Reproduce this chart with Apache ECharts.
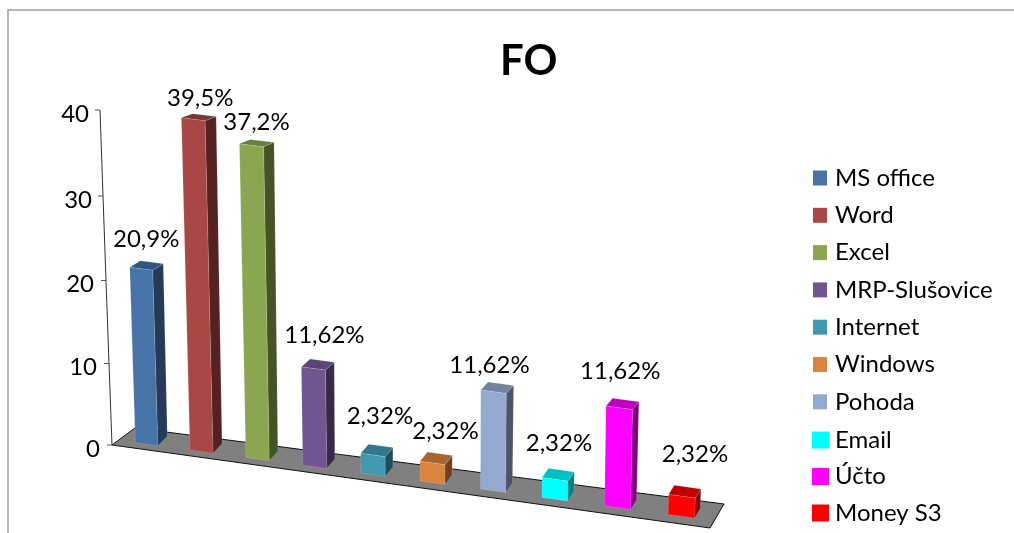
<!DOCTYPE html>
<html><head><meta charset="utf-8">
<script src="https://cdn.jsdelivr.net/npm/echarts@6/dist/echarts.min.js"></script>
<style>html,body{margin:0;padding:0;background:#fff}#c{width:1014px;height:533px}</style>
</head><body><div id="c"></div>
<script>
var categories = ['MS office','Word','Excel','MRP-Slušovice','Internet','Windows','Pohoda','Email','Účto','Money S3'];
var values = [20.9,39.5,37.2,11.62,2.32,2.32,11.62,2.32,11.62,2.32];
var yTicks = [0,10,20,30,40];
var frontColors = ['#4674A8','#A94744','#8BA650','#705590','#4198AF','#DB843D','#93A9CF','#00FFFF','#FF00FF','#FF0000'];
var sideColors = ['#243A58','#552121','#465327','#38294A','#1F4D59','#6E421E','#4A5568','#008080','#800080','#800000'];
var topColors = ['#2F5580','#7A3432','#697D3C','#5A4575','#31788C','#A86530','#71839F','#00C0C0','#C000C0','#C00000'];
var labelDx = [5,7,5,11,7,13,-4,4,1,13];
var labelDy = [-30,-21,-23,-33,-39,-32,-26,-36,-37,-42];

var FONT = 'Lato';
var SLOPE = 0.1388, AXH = 335;
var chart = echarts.init(document.getElementById('c'), null, {renderer:'canvas'});

function project(x, y0, x0, h, back){
  var s = 1 + (x - x0) * 0.00005;
  var lean = (x - 450) * 0.0001;
  return [x + lean * h * s, y0 + SLOPE * (x - x0) - back - h * s];
}
function barItem(idx){
  return function(params, api){
    var i = api.value(0), v = api.value(1);
    var c0 = api.coord([i,0]), cv = api.coord([i,v]);
    var band = api.size([1,0])[0];
    var x0 = c0[0] - band * (i + 0.5);
    var xc = c0[0] + 0.5625 * (i-5)*(i-5) - 9.5;
    var w = 22.5 + 0.45 * i;
    var h = c0[1] - cv[1];
    var back = 5.5 + (xc - x0) * 0.004;
    var fl = project(xc-w/2, c0[1], x0, 0, back), fr = project(xc+w/2, c0[1], x0, 0, back);
    var tl = project(xc-w/2, c0[1], x0, h, back), tr = project(xc+w/2, c0[1], x0, h, back);
    var d0 = 9.5 - 0.45 * i, dxT = d0 + h / AXH * 2, dyT = -(9.5 - h / AXH * 5.5);
    var edge = 'rgba(255,255,255,0.22)';
    var txt = String(v).replace('.', ',') + '%';
    return {type:'group', children:[
      {type:'polygon', shape:{points:[fr,[fr[0]+d0,fr[1]-9.5],[tr[0]+dxT,tr[1]+dyT],tr]}, style:{fill:sideColors[idx],stroke:edge,lineWidth:0.6}},
      {type:'polygon', shape:{points:[tl,tr,[tr[0]+dxT,tr[1]+dyT],[tl[0]+dxT,tl[1]+dyT]]}, style:{fill:topColors[idx],stroke:edge,lineWidth:0.6}},
      {type:'polygon', shape:{points:[fl,fr,tr,tl]}, style:{fill:frontColors[idx],stroke:edge,lineWidth:0.6}},
      {type:'text', style:{text:txt, x:(tl[0]+tr[0])/2+labelDx[idx], y:(tl[1]+tr[1])/2+labelDy[idx], font:'24px '+FONT, fill:'#000', align:'center', verticalAlign:'middle'}}
    ]};
  };
}
function floorItem(params, api){
  var c = api.coord([0,0]), band = api.size([1,0])[0];
  var L = c[0]-band/2, R = L + band*categories.length;
  var fl = [L,c[1]], fr = [R-2, c[1]+SLOPE*(R-2-L)];
  return {type:'polygon', shape:{points:[fl,fr,[fr[0]+14,fr[1]-24],[fl[0]+23,fl[1]-17]]},
    style:{fill:'#808080',stroke:'#111',lineWidth:1}};
}
function tickWarp(v){ var u=v/20-1; return 3*(1-u*u); }
function axisItem(params, api){
  var v = api.value(1), c = api.coord([0,v]);
  var L = c[0]-api.size([1,0])[0]/2, h = api.coord([0,0])[1]-c[1];
  var x = L - 12*h/AXH, y = c[1]+tickWarp(v);
  var ch = [{type:'line', shape:{x1:x-5,y1:y,x2:x,y2:y}, style:{stroke:'#555',lineWidth:1}}];
  if(v>0){
    var lo = api.coord([0,v-10]), hl = api.coord([0,0])[1]-lo[1];
    ch.push({type:'line', shape:{x1:x,y1:y,x2:L-12*hl/AXH,y2:lo[1]+tickWarp(v-10)}, style:{stroke:'#333',lineWidth:1}});
  }
  return {type:'group',children:ch};
}
var series = [
  {type:'custom', name:'floor', coordinateSystem:'cartesian2d', data:[[0,0]], renderItem:floorItem, silent:true, z:1, encode:{x:0,y:1}},
  {type:'custom', name:'axis', coordinateSystem:'cartesian2d', data:yTicks.map(function(v){return [0,v];}), renderItem:axisItem, silent:true, z:1, encode:{x:0,y:1}}
];
categories.forEach(function(name,i){
  series.push({type:'custom', name:name, coordinateSystem:'cartesian2d', data:[[i,values[i]]], renderItem:barItem(i),
    itemStyle:{color:frontColors[i]}, silent:true, z:2+i, encode:{x:0,y:1}});
});
var legendText = {fontFamily:FONT, fontSize:24, color:'#000', padding:[0,0,0,3]};
var rich = {};
yTicks.forEach(function(v){
  rich['t'+v] = {fontFamily:FONT, fontSize:24, color:'#000', padding:[8+2*tickWarp(v),Math.round(11*v/40),0,0]};
});
chart.setOption({
  animation:false,
  backgroundColor:'#fff',
  title:{text:'FO', left:500, top:40, padding:0, textStyle:{fontFamily:FONT,fontWeight:'bold',fontSize:42,color:'#000'}},
  grid:{left:112, top:110, width:600, height:335, containLabel:false},
  xAxis:{type:'category', data:categories, show:false},
  yAxis:{type:'value', min:0, max:40, interval:10, splitLine:{show:false}, axisLine:{show:false}, axisTick:{show:false},
    axisLabel:{margin:12, formatter:function(v){return '{t'+v+'|'+v+'}';}, rich:rich}},
  legend:[
    {show:true, orient:'vertical', left:813, top:166, itemWidth:14, itemHeight:15, itemGap:13.3, icon:'rect', selectedMode:false, padding:0,
     data:categories.slice(0,7), textStyle:legendText},
    {show:true, orient:'vertical', left:812, top:428, itemWidth:17, itemHeight:17, itemGap:12.5, icon:'rect', selectedMode:false, padding:0,
     data:categories.slice(7), textStyle:Object.assign({},legendText,{padding:[0,0,0,1]})}
  ],
  graphic:[
    {type:'polyline', silent:true, shape:{points:[[8,533],[8,10],[1014,10]]}, style:{stroke:'#a0a0a0',lineWidth:1.5,fill:null}}
  ],
  series:series
});
</script></body></html>
